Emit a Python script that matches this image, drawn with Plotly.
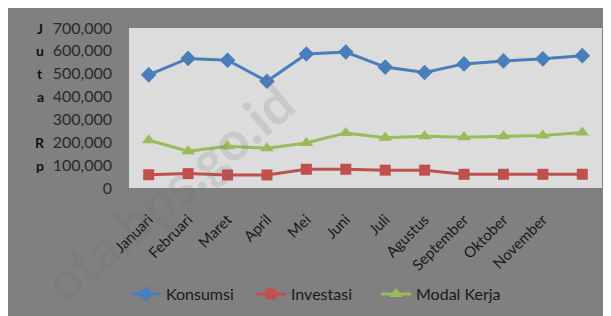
import plotly.graph_objects as go

months = ["Januari", "Februari", "Maret", "April", "Mei", "Juni", "Juli",
          "Agustus", "September", "Oktober", "November", "Desember"]
tick_labels = ["Januari", "Februari", "Maret", "April", "Mei", "Juni", "Juli",
               "Agustus", "September", "Oktober", "November", ""]
konsumsi = [495000, 567000, 559000, 467000, 586000, 595000, 529000, 505000,
            543000, 556000, 565000, 579000]
investasi = [58000, 63000, 57000, 57000, 82000, 82000, 78000, 78000,
             60000, 60000, 60000, 60000]
modal_kerja = [209000, 161000, 183000, 174000, 197000, 241000, 220000, 226000,
               222000, 226000, 230000, 243000]
y_ticks = [0, 100000, 200000, 300000, 400000, 500000, 600000, 700000]
axis_letters = [("J", 700000), ("u", 600000), ("t", 500000), ("a", 400000),
                ("R", 200000), ("p", 100000)]

FONT = "Lato, 'Open Sans', sans-serif"
OFF_X, OFF_Y = 8, 8  # page body margin
PLOT_L, PLOT_R, PLOT_T, PLOT_B = 129 - OFF_X, 602 - OFF_X, 28 - OFF_Y, 188 - OFF_Y
PW = PLOT_R - PLOT_L
PH = PLOT_B - PLOT_T

fig = go.Figure()
fig.add_trace(go.Scatter(x=months, y=konsumsi, name="Konsumsi", mode="lines+markers",
                         line=dict(color="#4a7ebb", width=3),
                         marker=dict(symbol="diamond", size=12, color="#4a7ebb")))
fig.add_trace(go.Scatter(x=months, y=investasi, name="Investasi", mode="lines+markers",
                         line=dict(color="#c0504d", width=3),
                         marker=dict(symbol="square", size=11, color="#c0504d")))
fig.add_trace(go.Scatter(x=months, y=modal_kerja, name="Modal Kerja", mode="lines+markers",
                         line=dict(color="#9bbb59", width=3),
                         marker=dict(symbol="triangle-up", size=12, color="#9bbb59")))

for letter, yv in axis_letters:
    fig.add_annotation(x=(40 - OFF_X - PLOT_L) / PW, xref="paper", y=yv, yref="y",
                       text="<b>%s</b>" % letter, showarrow=False,
                       font=dict(family=FONT, size=14, color="#111111"),
                       xanchor="center", yanchor="middle")

fig.add_annotation(x=(168 - OFF_X - PLOT_L) / PW, xref="paper",
                   y=(PLOT_B - (192 - OFF_Y)) / PH, yref="paper",
                   text="<b>ota.bps.go.id</b>", textangle=-40, showarrow=False,
                   font=dict(family=FONT, size=54, color="rgba(105,105,105,0.16)"),
                   xanchor="center", yanchor="middle")

fig.update_layout(
    width=611, height=316,
    margin=dict(l=PLOT_L, r=611 - PLOT_R, t=PLOT_T, b=316 - PLOT_B, autoexpand=False),
    paper_bgcolor="#808080",
    plot_bgcolor="#dcdcdc",
    font=dict(family=FONT, size=15, color="#1a1a1a"),
    showlegend=True,
    legend=dict(orientation="h", x=(126 - OFF_X - PLOT_L) / PW, xanchor="left",
                y=(PLOT_B - (294 - OFF_Y)) / PH, yanchor="middle",
                bgcolor="rgba(0,0,0,0)", font=dict(family=FONT, size=16, color="#1a1a1a"),
                itemwidth=30, tracegroupgap=0, entrywidth=80, entrywidthmode="pixels"),
    xaxis=dict(type="category", tickmode="array", tickvals=months, ticktext=tick_labels,
               range=[-0.5, len(months) - 0.5],
               tickangle=-45, showgrid=False, zeroline=False, showline=False,
               ticks="", ticklabelstandoff=19, automargin=False,
               tickfont=dict(family=FONT, size=15, color="#1a1a1a")),
    yaxis=dict(range=[0, 700000], tickmode="array", tickvals=y_ticks,
               tickformat=",", showgrid=False, zeroline=False, showline=False,
               ticks="", ticklabelstandoff=16, automargin=False,
               tickfont=dict(family=FONT, size=16, color="#2a2a2a")),
)

fig.write_html("out.html")
